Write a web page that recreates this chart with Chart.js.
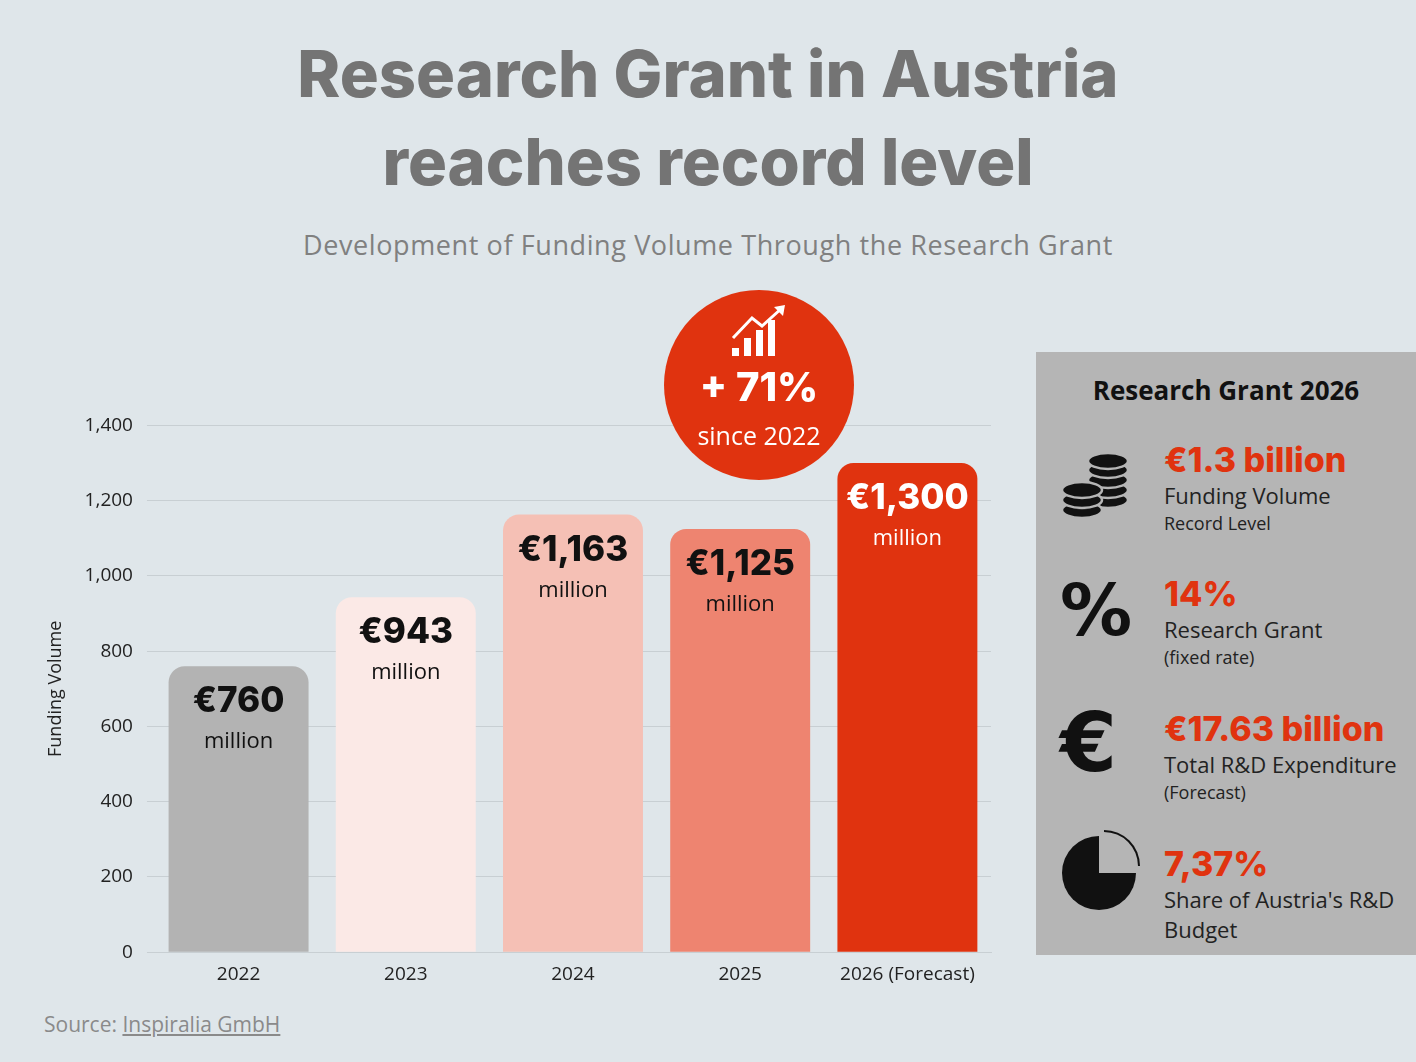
<!DOCTYPE html>
<html>
<head>
<meta charset="utf-8">
<script src="https://cdn.jsdelivr.net/npm/chart.js@4"></script>
<style>
  body { margin: 0; width: 1416px; height: 1062px; background: #dfe6ea; font-family: "Open Sans", sans-serif; position: relative; overflow: hidden; }
  h1 { position: absolute; top: 30px; left: 0; width: 1416px; margin: 0; text-align: center; font-family: Inter, sans-serif; font-weight: 800; font-size: 65px; line-height: 88px; color: #747474; letter-spacing: 0px; }
  .sub { position: absolute; top: 226px; width: 1416px; text-align: center; font-size: 27px; color: #808080; letter-spacing: 0.6px; }
  #wrap { position: absolute; left: 36px; top: 400px; width: 957px; height: 589px; }
  .circle { position: absolute; left: 664px; top: 290px; width: 190px; height: 190px; border-radius: 50%; background: #e0330f; color: #fff; text-align: center; font-family: Inter, sans-serif; }
  .circle .big { position: absolute; top: 72px; width: 100%; font-size: 40px; font-weight: 800; }
  .circle .small { position: absolute; top: 128px; width: 100%; font-size: 25px; font-family: "Open Sans", sans-serif; }
  .panel { position: absolute; left: 1036px; top: 352px; width: 380px; height: 603px; background: #b5b5b5; }
  .panel h2 { margin: 0; position: absolute; top: 20px; width: 380px; text-align: center; font-family: "Open Sans", sans-serif; font-weight: 700; font-size: 26px; color: #111; }
  .item { position: absolute; left: 128px; }
  .item .v { font-family: Inter, sans-serif; font-weight: 800; font-size: 34px; color: #e0330f; line-height: 40px; }
  .item .l1 { font-size: 22px; color: #222; line-height: 30px; }
  .item .l2 { font-size: 18px; color: #222; line-height: 26px; }
  .icon { position: absolute; left: 24px; color: #111; font-weight: 800; font-family: "DejaVu Sans", sans-serif; }
  .src { position: absolute; left: 44px; top: 1010px; font-size: 21px; color: #8a8a8a; }
  .src u { color: #8a8a8a; }
</style>
</head>
<body>
<h1>Research Grant in Austria<br>reaches record level</h1>
<div class="sub">Development of Funding Volume Through the Research Grant</div>
<div id="wrap"><canvas id="chart"></canvas></div>
<div class="circle">
  <svg style="position:absolute;left:66px;top:14px" width="58" height="54" viewBox="0 0 58 54">
    <rect x="2" y="44" width="7" height="8" fill="#fff"/>
    <rect x="14" y="34" width="7" height="18" fill="#fff"/>
    <rect x="26" y="26" width="7" height="26" fill="#fff"/>
    <rect x="38" y="16" width="7" height="36" fill="#fff"/>
    <polyline points="3,34 22,14 32,22 52,4" fill="none" stroke="#fff" stroke-width="3"/>
    <polygon points="55,1 44,3 53,12" fill="#fff"/>
  </svg>
  <div class="big">+ 71%</div>
  <div class="small">since 2022</div>
</div>
<div class="panel">
  <h2>Research Grant 2026</h2>
  <svg class="icon" style="top:100px" width="70" height="68" viewBox="0 0 70 68">
    <g fill="#111" stroke="#b5b5b5" stroke-width="2.5">
      <ellipse cx="48" cy="48" rx="20" ry="8"/><ellipse cx="48" cy="38" rx="20" ry="8"/><ellipse cx="48" cy="28" rx="20" ry="8"/><ellipse cx="48" cy="18" rx="20" ry="8"/><ellipse cx="48" cy="9" rx="20" ry="8"/>
      <ellipse cx="22" cy="58" rx="20" ry="8"/><ellipse cx="22" cy="48" rx="20" ry="8"/><ellipse cx="22" cy="38" rx="20" ry="8"/>
    </g>
  </svg>
  <div class="icon" style="top:222px;font-size:72px;line-height:72px">%</div>
  <div class="icon" style="top:350px;font-size:82px;line-height:82px">€</div>
  <div class="icon" style="top:484px;left:26px;width:74px;height:74px;border-radius:50%;background:conic-gradient(#b5b5b5 0 25%, #111 25% 100%)"></div>
  <div class="icon" style="top:478px;left:32px;width:72px;height:72px;border-radius:50%;background:conic-gradient(#b5b5b5 0 25%, transparent 25%);border:0;clip-path:polygon(50% 0,100% 0,100% 50%,50% 50%);box-shadow:inset 0 0 0 2px #111"></div>
  <div class="item" style="top:88px"><div class="v">€1.3 billion</div><div class="l1">Funding Volume</div><div class="l2">Record Level</div></div>
  <div class="item" style="top:222px"><div class="v">14%</div><div class="l1">Research Grant</div><div class="l2">(fixed rate)</div></div>
  <div class="item" style="top:357px"><div class="v">€17.63 billion</div><div class="l1">Total R&amp;D Expenditure</div><div class="l2">(Forecast)</div></div>
  <div class="item" style="top:492px"><div class="v">7,37%</div><div class="l1">Share of Austria's R&amp;D</div><div class="l1">Budget</div></div>
</div>
<div class="src">Source: <u>Inspiralia GmbH</u></div>
<script>
const years = ['2022', '2023', '2024', '2025', '2026 (Forecast)'];
const funding = [760, 943, 1163, 1125, 1300];
const valueLabels = ['€760', '€943', '€1,163', '€1,125', '€1,300'];
const barColors = ['#b3b3b3', '#fbe9e6', '#f5c0b5', '#ee8470', '#e0330f'];
const labelColors = ['#111', '#111', '#111', '#111', '#fff'];
const yTicks = [0, 200, 400, 600, 800, 1000, 1200, 1400];

// value + "million" drawn inside each bar top
const barLabels = {
  id: 'barLabels',
  afterDatasetsDraw(chart) {
    const ctx = chart.ctx;
    chart.getDatasetMeta(0).data.forEach((bar, i) => {
      ctx.save();
      ctx.textAlign = 'center';
      ctx.fillStyle = labelColors[i];
      ctx.font = '800 35px Inter, sans-serif';
      ctx.fillText(valueLabels[i], bar.x, bar.y + 46);
      ctx.font = '22px "Open Sans", sans-serif';
      ctx.fillText('million', bar.x, bar.y + 82);
      ctx.restore();
    });
  }
};

new Chart(document.getElementById('chart'), {
  type: 'bar',
  data: {
    labels: years,
    datasets: [{
      data: funding,
      backgroundColor: barColors,
      borderRadius: { topLeft: 16, topRight: 16 },
      borderSkipped: 'bottom',
      categoryPercentage: 0.837,
      barPercentage: 1
    }]
  },
  options: {
    responsive: true,
    maintainAspectRatio: false,
    animation: false,
    layout: { padding: { top: 14, right: 2, left: 5 } },
    plugins: { legend: { display: false }, tooltip: { enabled: false } },
    scales: {
      x: {
        grid: { display: false },
        border: { color: '#c8cfd3' },
        ticks: { color: '#222', font: { size: 19, family: 'Open Sans' } }
      },
      y: {
        min: 0, max: 1400,
        afterBuildTicks(axis) { axis.ticks = yTicks.map(v => ({ value: v })); },
        grid: { color: '#c8cfd3' },
        border: { display: false },
        title: { display: true, text: 'Funding Volume', color: '#222', font: { size: 18, family: 'Open Sans' } },
        ticks: { color: '#222', padding: 14, font: { size: 19, family: 'Open Sans' } }
      }
    }
  },
  plugins: [barLabels]
});
</script>
</body>
</html>
